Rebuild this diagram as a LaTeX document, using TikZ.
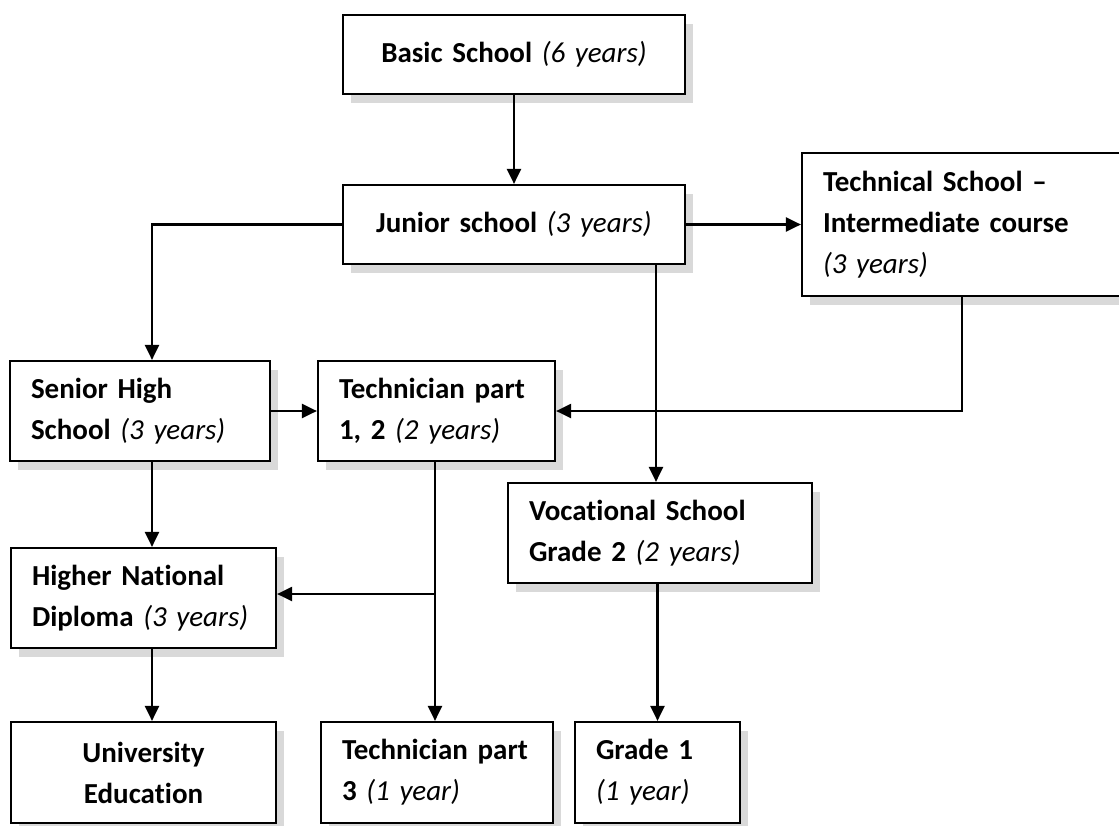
\documentclass[tikz,border=0pt]{standalone}
\usepackage{fontspec}
\setmainfont[Ligatures={TeX,NoCommon}]{Carlito}
\usetikzlibrary{arrows.meta,shadows}
\definecolor{shadowgray}{RGB}{217,217,217}
\newcommand\yrs[1]{{\mdseries\itshape #1}}
\begin{document}
\begin{tikzpicture}[x=1pt,y=-1pt,
  box/.style={draw, line width=2.2pt, fill=white, inner xsep=21pt, inner ysep=0pt,
    drop shadow={shadow xshift=8pt, shadow yshift=-9pt, fill=shadowgray, opacity=1},
    font=\fontsize{29}{41}\selectfont\bfseries, align=left},
  arr/.style={line width=2.2pt, -{Triangle[length=15pt,width=14pt]}}]
\clip (0,0) rectangle (1119,825);
\fill[white] (0,0) rectangle (1119,825);
\node[box, text width=300pt, minimum height=79pt, align=center] (basic) at (514,54.5) {Basic School \yrs{(6 years)}};
\node[box, text width=300pt, minimum height=79pt, align=center] (junior) at (514,224.5) {Junior school \yrs{(3 years)}};
\node[box, text width=286pt, minimum height=143pt] (tech) at (966,224.5) {Technical School –\\Intermediate course\\\yrs{(3 years)}};
\node[box, text width=218pt, minimum height=100pt] (senior) at (140,411) {Senior High\\School \yrs{(3 years)}};
\node[box, text width=195pt, minimum height=100pt] (tp12) at (436.5,411) {Technician part\\1, 2 \yrs{(2 years)}};
\node[box, text width=262pt, minimum height=100pt] (voc) at (660,533) {Vocational School\\Grade 2 \yrs{(2 years)}};
\node[box, text width=223pt, minimum height=100pt] (hnd) at (143.5,598) {Higher National\\Diploma \yrs{(3 years)}};
\node[box, text width=223pt, minimum height=101pt, align=center] (uni) at (143.5,772.5) {University\\Education};
\node[box, text width=190pt, minimum height=101pt] (tp3) at (437,772.5) {Technician part\\3 \yrs{(1 year)}};
\node[box, text width=123pt, minimum height=101pt] (g1) at (657.5,772.5) {Grade 1\\\yrs{(1 year)}};
\coordinate (tpout) at ([xshift=-1.5pt]tp12.south);
\coordinate (hndin) at ([yshift=4pt]hnd.east);
\coordinate (junout) at ([xshift=142pt]junior.south);
% connectors
\draw[arr] (basic.south) -- (junior.north);
\draw[arr] (junior.east) -- (tech.west);
\draw[arr] (junior.west) -| ([xshift=12pt]senior.north);
\draw[arr] (senior.east) -- (tp12.west);
\draw[arr] ([xshift=-4pt]tech.south) |- (tp12.east);
\draw[arr] (junout) -- (junout |- voc.north);
\draw[arr] (tpout) -- (tpout |- tp3.north);
\draw[arr] (tpout |- hndin) -- (hndin);
\draw[arr] ([xshift=12pt]senior.south) -- ([xshift=12pt]senior.south |- hnd.north);
\draw[arr] ([xshift=8.5pt]hnd.south) -- ([xshift=8.5pt]hnd.south |- uni.north);
\draw[arr] (g1.north |- voc.south) -- (g1.north);
\end{tikzpicture}
\end{document}
